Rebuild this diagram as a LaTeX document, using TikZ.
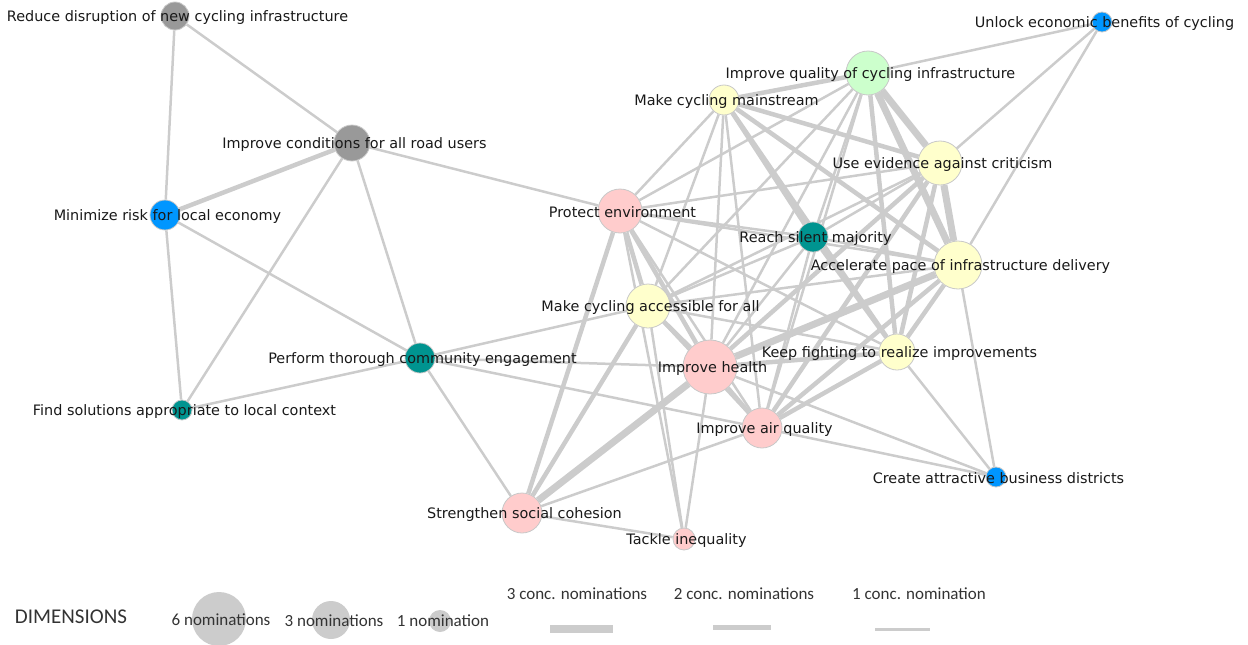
\documentclass[tikz,border=0pt]{standalone}
\usepackage{fontspec}
\setmainfont{DejaVu Sans}
\newfontfamily\legendfont{Carlito}
\usetikzlibrary{backgrounds}
\definecolor{edgegray}{RGB}{204,204,204}
\definecolor{rimgray}{RGB}{200,200,200}
\definecolor{dimgray}{RGB}{153,153,153}
\definecolor{dimblue}{RGB}{0,150,255}
\definecolor{dimteal}{RGB}{0,148,144}
\definecolor{dimpink}{RGB}{255,204,204}
\definecolor{dimyellow}{RGB}{255,255,204}
\definecolor{dimgreen}{RGB}{204,255,204}
\tikzset{
  goal/.style={circle,draw=rimgray,line width=0.8pt,inner sep=0pt},
  lbl/.style={font=\fontsize{14.4}{16}\selectfont,text=black!90,inner sep=0pt,yshift=-1.5pt,xshift=2.5pt},
  w1/.style={draw=edgegray,line width=2.5pt},
  w2/.style={draw=edgegray,line width=4.5pt},
  w3/.style={draw=edgegray,line width=7pt},
  legtext/.style={font=\legendfont\fontsize{17}{19}\selectfont,text=black!80,inner sep=0pt},
  legdot/.style={circle,fill=edgegray,inner sep=0pt}
}
\begin{document}
\begin{tikzpicture}[x=1pt,y=-1pt]
\useasboundingbox (0,0) rectangle (1248,645);

% left group
\node[goal,fill=dimgray,minimum size=28pt,label={[lbl]center:Reduce disruption of new cycling infrastructure}] (RD) at (175,16) {};
\node[goal,fill=dimgray,minimum size=36pt,label={[lbl]center:Improve conditions for all road users}] (IC) at (352,143) {};
\node[goal,fill=dimblue,minimum size=30pt,label={[lbl]center:Minimize risk for local economy}] (MR) at (165,215) {};
\node[goal,fill=dimteal,minimum size=20pt,label={[lbl]center:Find solutions appropriate to local context}] (FS) at (182,410) {};
\node[goal,fill=dimteal,minimum size=30pt,label={[lbl]center:Perform thorough community engagement}] (PC) at (420,358) {};

% main cluster
\node[goal,fill=dimpink,minimum size=44pt,label={[lbl]center:Protect environment}] (PE) at (620,211) {};
\node[goal,fill=dimyellow,minimum size=30pt,label={[lbl]center:Make cycling mainstream}] (MM) at (724,100) {};
\node[goal,fill=dimgreen,minimum size=44pt,label={[lbl]center:Improve quality of cycling infrastructure}] (IQ) at (868,73) {};
\node[goal,fill=dimblue,minimum size=20pt,label={[lbl]center:Unlock economic benefits of cycling}] (UE) at (1102,22) {};
\node[goal,fill=dimyellow,minimum size=44pt,label={[lbl]center:Use evidence against criticism}] (UV) at (940,163) {};
\node[goal,fill=dimteal,minimum size=30pt,label={[lbl]center:Reach silent majority}] (RS) at (813,237) {};
\node[goal,fill=dimyellow,minimum size=48pt,label={[lbl]center:Accelerate pace of infrastructure delivery}] (AP) at (958,265) {};
\node[goal,fill=dimyellow,minimum size=44pt,label={[lbl]center:Make cycling accessible for all}] (MA) at (648,306) {};
\node[goal,fill=dimpink,minimum size=54pt,label={[lbl]center:Improve health}] (IH) at (710,367) {};
\node[goal,fill=dimyellow,minimum size=36pt,label={[lbl]center:Keep fighting to realize improvements}] (KF) at (897,352) {};
\node[goal,fill=dimpink,minimum size=40pt,label={[lbl]center:Improve air quality}] (IA) at (762,428) {};
\node[goal,fill=dimblue,minimum size=20pt,label={[lbl]center:Create attractive business districts}] (CA) at (996,477) {};
\node[goal,fill=dimpink,minimum size=40pt,label={[lbl]center:Strengthen social cohesion}] (SS) at (522,513) {};
\node[goal,fill=dimpink,minimum size=22pt,label={[lbl]center:Tackle inequality}] (TI) at (684,539) {};

\begin{scope}[on background layer]
\foreach \a/\b in {RD/MR,RD/IC,IC/PE,IC/FS,IC/PC,MR/FS,MR/PC,FS/PC,PC/SS,PC/MA,PC/IH,PC/IA,
  SS/IA,SS/TI,TI/PE,TI/MA,TI/IH,
  PE/MM,PE/IQ,PE/UV,PE/RS,PE/AP,PE/KF,PE/IA,
  MM/MA,MM/IH,MM/IA,IQ/RS,IQ/MA,IQ/IH,IQ/IA,UV/RS,UV/MA,
  RS/AP,RS/MA,RS/IH,RS/IA,AP/MA,MA/KF,MA/IA,
  UE/IQ,UE/UV,UE/AP,CA/AP,CA/KF,CA/IA,CA/IH}
  \draw[w1] (\a) -- (\b);
\foreach \a/\b in {IC/MR,SS/PE,SS/MA,PE/MA,PE/IH,MM/IQ,MM/UV,MM/RS,MM/AP,MM/KF,
  IQ/KF,UV/IH,UV/KF,UV/IA,RS/KF,AP/KF,AP/IA,MA/IH,IH/KF,IH/IA,KF/IA}
  \draw[w2] (\a) -- (\b);
\foreach \a/\b in {SS/IH,IQ/UV,IQ/AP,UV/AP,AP/IH}
  \draw[w3] (\a) -- (\b);
\end{scope}

% legend
\node[legtext,font=\legendfont\fontsize{21}{23}\selectfont] (dims) at (71,617) {DIMENSIONS};
\node[legdot,minimum size=54pt] (six) at (219,619) {};
\node[legtext] (sixt) at (221,620) {6 nominations};
\node[legdot,minimum size=38pt] (three) at (331,620) {};
\node[legtext] (threet) at (334,621) {3 nominations};
\node[legdot,minimum size=22pt] (one) at (440,621) {};
\node[legtext] (onet) at (443,621) {1 nomination};
\node[legtext] (c3) at (577,594) {3 conc. nominations};
\node[legtext] (c2) at (744,594) {2 conc. nominations};
\node[legtext] (c1) at (919,594) {1 conc. nomination};
\draw[edgegray,line width=8pt] (550,629) -- (613,629);
\draw[edgegray,line width=5pt] (713,627) -- (771,627);
\draw[edgegray,line width=3pt] (875,629) -- (930,629);
\end{tikzpicture}
\end{document}
